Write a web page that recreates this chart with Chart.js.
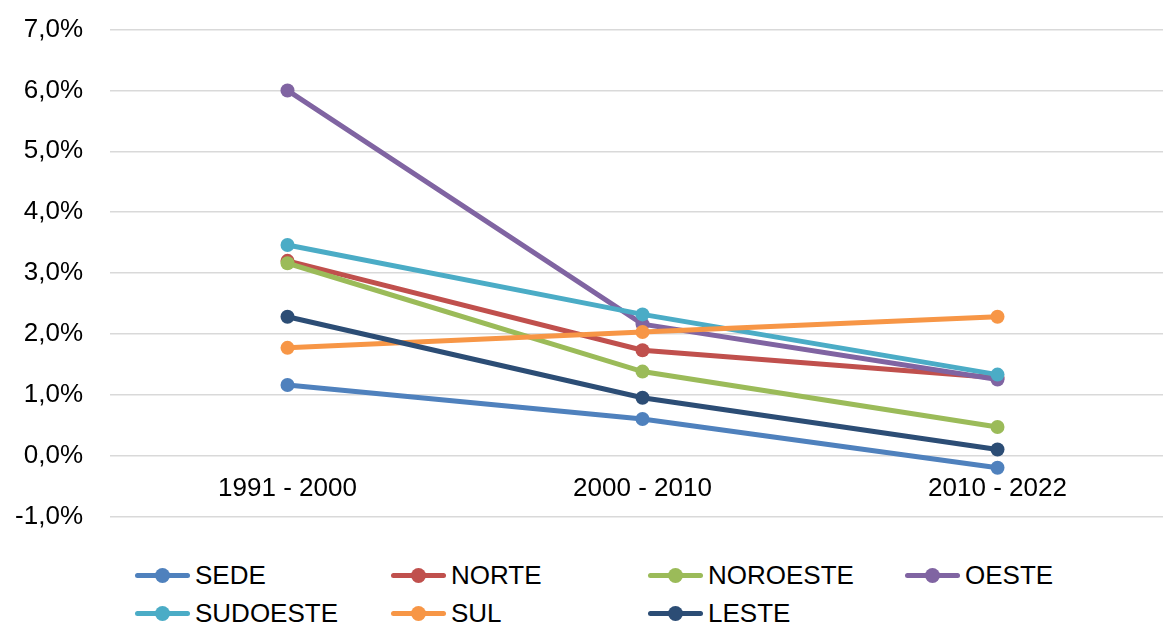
<!DOCTYPE html>
<html>
<head>
<meta charset="utf-8">
<script src="https://cdn.jsdelivr.net/npm/chart.js@4.4.0/dist/chart.umd.min.js"></script>
<style>
  body { margin: 0; overflow: hidden; background: #fff; font-family: "Liberation Sans", Arial, sans-serif; }
  #wrap { position: absolute; left: 0; top: -13px; width: 1182px; height: 572px; }
  #legend { position: absolute; left: 0; top: 0; }
  .item { position: absolute; display: flex; align-items: center; font-size: 26px; color: #000; height: 30px; }
  .mk { position: relative; width: 55px; height: 5px; border-radius: 3px; margin-right: 5px; }
  .mk span { position: absolute; left: 20px; top: -5px; width: 15px; height: 15px; border-radius: 50%; }
</style>
</head>
<body>
<div id="wrap"><canvas id="chart"></canvas></div>
<div id="legend"></div>
<script>
// Categories and series
const periods = ["1991 - 2000", "2000 - 2010", "2010 - 2022"];
const seriesNames = ["SEDE", "NORTE", "NOROESTE", "OESTE", "SUDOESTE", "SUL", "LESTE"];
const sede = [1.16, 0.60, -0.20];
const norte = [3.20, 1.73, 1.28];
const noroeste = [3.16, 1.38, 0.47];
const oeste = [6.00, 2.16, 1.25];
const sudoeste = [3.46, 2.32, 1.33];
const sul = [1.77, 2.03, 2.28];
const leste = [2.28, 0.95, 0.10];
const seriesColors = ["#4F81BD", "#C0504D", "#9BBB59", "#8064A2", "#4BACC6", "#F79646", "#2C4D75"];
const yTicks = [-1, 0, 1, 2, 3, 4, 5, 6, 7];

const allSeries = [sede, norte, noroeste, oeste, sudoeste, sul, leste];

Chart.defaults.font.family = '"Liberation Sans", Arial, sans-serif';
Chart.defaults.font.size = 26;
Chart.defaults.color = "#000";

const ctx = document.getElementById("chart").getContext("2d");
const chart = new Chart(ctx, {
  type: "line",
  data: {
    labels: periods,
    datasets: allSeries.map((vals, i) => ({
      label: seriesNames[i],
      data: vals,
      borderColor: seriesColors[i],
      backgroundColor: seriesColors[i],
      pointBackgroundColor: seriesColors[i],
      pointBorderColor: seriesColors[i],
      borderWidth: 5,
      pointRadius: 7,
      pointBorderWidth: 0,
      tension: 0,
      order: -i,
    })),
  },
  options: {
    responsive: true,
    maintainAspectRatio: false,
    animation: false,
    layout: { padding: { top: 16, bottom: 16, right: 0, left: 0 } },
    plugins: {
      legend: { display: false },
      tooltip: { enabled: false },
    },
    scales: {
      x: {
        position: { y: 0 },
        offset: true,
        grid: { display: false, drawTicks: false },
        border: { display: false },
        ticks: { padding: 18, maxRotation: 0 },
      },
      y: {
        min: -1,
        max: 7,
        afterBuildTicks: (s) => { s.ticks = yTicks.map((v) => ({ value: v })); },
        afterFit: (s) => { s.width = 110; },
        grid: { color: "#D9D9D9", lineWidth: 1.5, drawTicks: false },
        border: { display: false },
        ticks: {
          padding: 27,
          callback: (v) => v.toFixed(1).replace(".", ",") + "%",
        },
      },
    },
  },
});

// Legend in two rows, fixed columns
const legendEl = document.getElementById("legend");
const colX = [135, 391, 648, 905];
const rowY = [575, 613];
seriesNames.forEach((name, i) => {
  const item = document.createElement("div");
  item.className = "item";
  item.style.left = colX[i % 4] + "px";
  item.style.top = (rowY[Math.floor(i / 4)] - 15) + "px";
  item.innerHTML = '<div class="mk" style="background:' + seriesColors[i] + '"><span style="background:' +
    seriesColors[i] + '"></span></div>' + name;
  legendEl.appendChild(item);
});
</script>
</body>
</html>
